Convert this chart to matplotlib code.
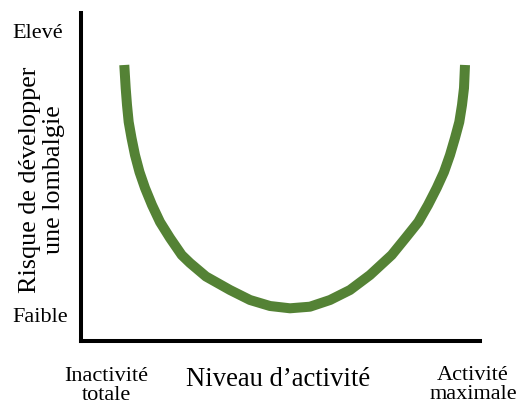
import matplotlib
matplotlib.use("Agg")
import matplotlib.pyplot as plt

plt.rcParams['font.family'] = ['Liberation Serif', 'DejaVu Serif']

# Curve (axis units 0..100 both ways)
activity = [10.85, 11.20, 11.53, 11.95, 12.66, 13.53, 14.66, 16.04, 17.79, 19.80,
            22.31, 25.24, 27.32, 31.33, 37.34, 42.36, 47.37, 52.38, 57.39, 62.41,
            67.42, 72.43, 77.87, 81.33, 84.54, 86.97, 89.15, 90.98, 92.48, 93.73,
            94.81, 95.49, 95.99, 96.24]
risk = [84.15, 77.13, 71.95, 66.77, 61.89, 56.71, 51.52, 46.65, 41.46, 36.28,
        31.40, 26.22, 23.78, 19.66, 15.55, 12.50, 10.67, 9.97, 10.46, 12.50,
        15.55, 20.12, 26.22, 31.40, 36.28, 41.46, 46.65, 51.52, 56.71, 61.89,
        66.77, 71.95, 77.13, 84.15]

y_tick_labels = ["Elevé", "Faible"]
x_tick_labels = ["Inactivité\ntotale", "Activité\nmaximale"]
x_label = "Niveau d’activité"
y_label = "Risque de développer\nune lombalgie"

W, H = 517, 408
fig = plt.figure(figsize=(W / 100, H / 100), dpi=100)
ax = fig.add_axes([81 / W, (H - 341) / H, 399 / W, 328 / H])

ax.plot(activity, risk, color="#548235", lw=7.2, solid_capstyle="butt",
        solid_joinstyle="round")
ax.set_xlim(0, 100)
ax.set_ylim(0, 100)
ax.set_xticks([])
ax.set_yticks([])
for s in ["top", "right"]:
    ax.spines[s].set_visible(False)
for s in ["left", "bottom"]:
    ax.spines[s].set_linewidth(2.9)
    ax.spines[s].set_color("black")
    ax.spines[s].set_capstyle("projecting")


def ft(px, py, txt, size, **kw):
    fig.text(px / W, 1 - py / H, txt, fontsize=size, ha="center", va="center", **kw)


ft(38, 34, y_tick_labels[0], 16)
ft(40, 318, y_tick_labels[1], 16)
ft(106, 386, x_tick_labels[0], 16, linespacing=1.05)
ft(473, 385, x_tick_labels[1], 16, linespacing=1.05)
ft(278, 380, x_label, 19.2)
ft(42, 180, y_label, 18.8, rotation=90, linespacing=1.15)

fig.savefig("out.png", dpi=100, facecolor="white")
